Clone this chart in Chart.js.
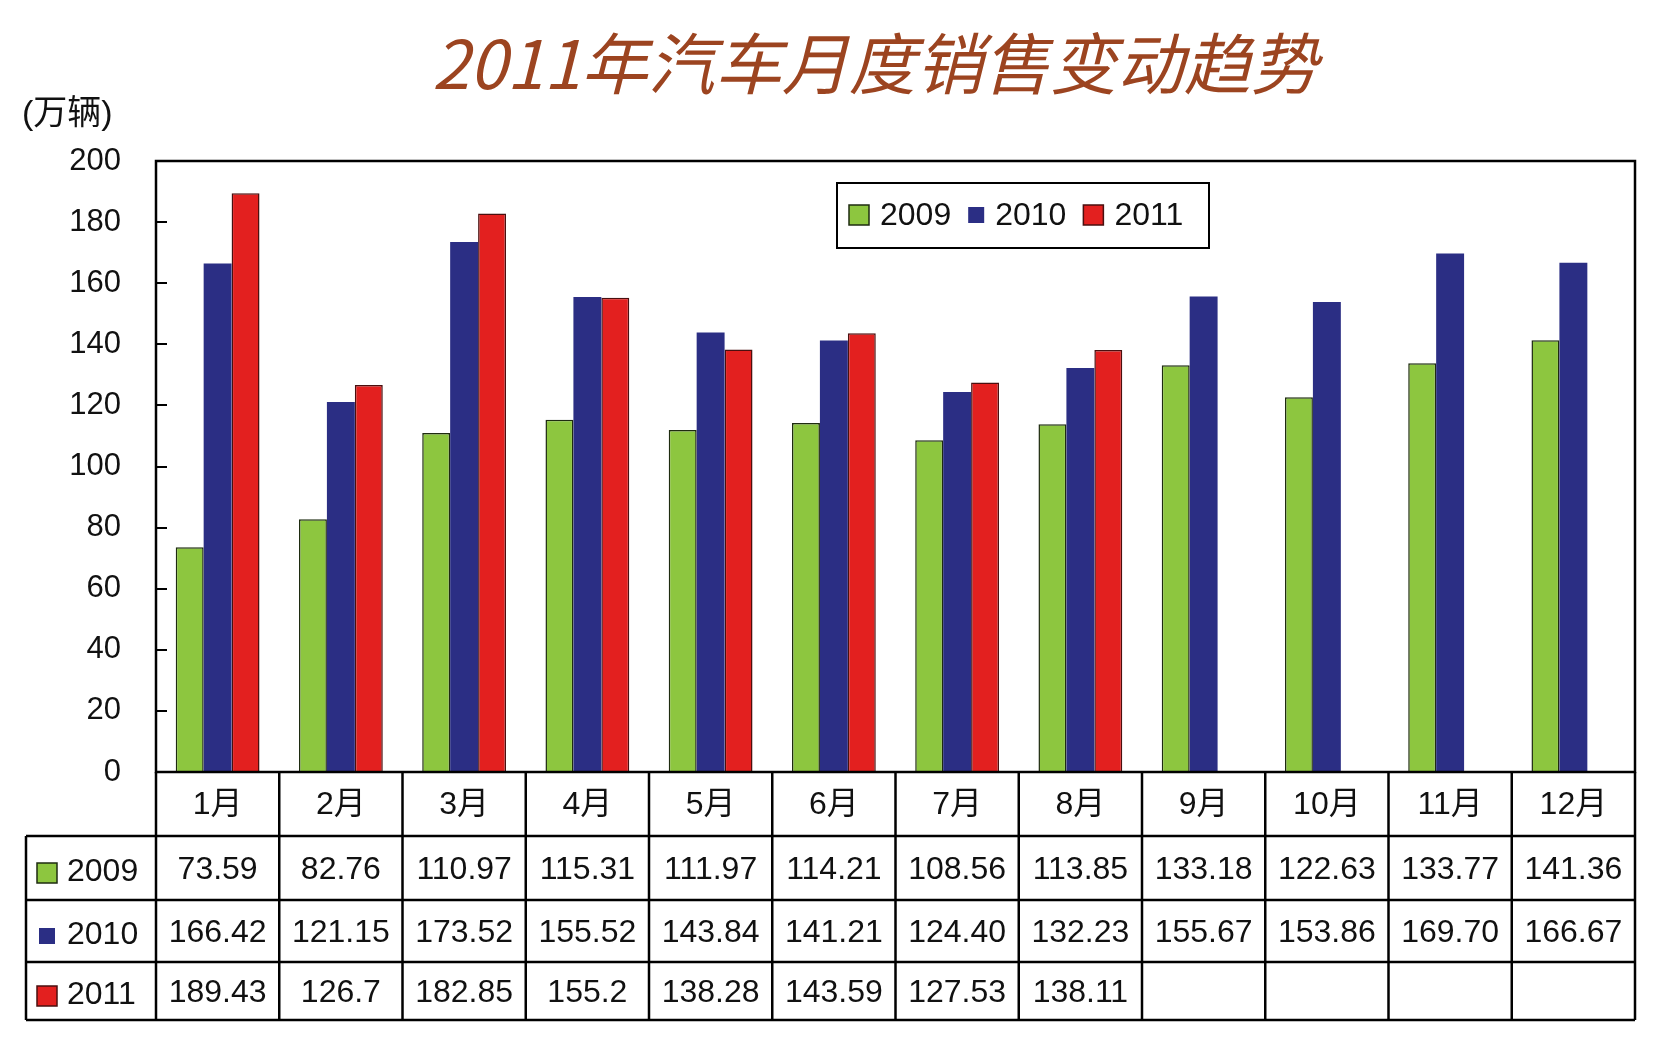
<!DOCTYPE html>
<html lang="zh-CN">
<head>
  <meta charset="UTF-8" />
  <title>2011年汽车月度销售变动趋势</title>
  <script src="https://cdn.jsdelivr.net/npm/chart.js"></script>
  <style>
    html, body {
      margin: 0;
      padding: 0;
      background: #fff;
    }

    #wrap {
      width: 1654px;
      height: 1040px;
    }
  </style>
</head>
<body>

  <div id="wrap">
    <canvas id="salesChart" width="1654" height="1040"></canvas>
  </div>

  <script>
    const titleText = '2011年汽车月度销售变动趋势';
    const unitText = '(万辆)';
    const months = ['1月', '2月', '3月', '4月', '5月', '6月', '7月', '8月', '9月', '10月', '11月', '12月'];
    const years = ['2009', '2010', '2011'];
    const sales2009 = [73.59, 82.76, 110.97, 115.31, 111.97, 114.21, 108.56, 113.85, 133.18, 122.63, 133.77, 141.36];
    const sales2010 = [166.42, 121.15, 173.52, 155.52, 143.84, 141.21, 124.40, 132.23, 155.67, 153.86, 169.70, 166.67];
    const sales2011 = [189.43, 126.7, 182.85, 155.2, 138.28, 143.59, 127.53, 138.11, null, null, null, null];
    const yMin = 0, yMax = 200, yStep = 20;

    const FONT = "'Liberation Sans', Arial, 'Noto Sans CJK SC', sans-serif";
    const CJK = "'Noto Sans CJK SC', 'Liberation Sans', sans-serif";

    // table under the plot, legend box, title: drawn after the bars
    const sheetPlugin = {
      id: 'sheet',
      afterDraw(chart) {
        const { ctx, chartArea: a, scales: { x, y } } = chart;
        const sets = chart.data.datasets;
        ctx.save();

        // title + unit
        ctx.fillStyle = '#9c4420';
        ctx.font = 'italic 67px ' + CJK;
        ctx.textAlign = 'center';
        ctx.textBaseline = 'middle';
        ctx.fillText(titleText, 875, 64);

        ctx.fillStyle = '#111';
        ctx.font = '34px ' + FONT;
        ctx.textAlign = 'left';
        ctx.fillText(unitText, 22, 115);

        // inner tick marks on the y axis
        ctx.strokeStyle = '#000';
        ctx.lineWidth = 2;
        y.ticks.forEach(t => {
          if (t.value <= yMin || t.value >= yMax) return;
          const py = Math.round(y.getPixelForValue(t.value));
          ctx.beginPath();
          ctx.moveTo(a.left, py);
          ctx.lineTo(a.left + 11, py);
          ctx.stroke();
        });

        // plot frame
        ctx.lineWidth = 2.5;
        ctx.strokeRect(a.left, a.top, a.right - a.left, a.bottom - a.top);

        // legend
        ctx.lineWidth = 2;
        ctx.strokeRect(837, 183, 372, 65);
        ctx.font = '32px ' + FONT;
        ctx.textBaseline = 'middle';
        let lx = 849;
        sets.forEach(ds => {
          const plain = ds.borderWidth === 0;
          const s = plain ? 16 : 20;
          const top = 215 - s / 2;
          ctx.fillStyle = ds.backgroundColor;
          ctx.fillRect(lx, top, s, s);
          if (!plain) {
            ctx.strokeStyle = ds.borderColor;
            ctx.lineWidth = 1.5;
            ctx.strokeRect(lx, top, s, s);
          }
          ctx.fillStyle = '#111';
          ctx.textAlign = 'left';
          ctx.fillText(ds.label, lx + s + 11, 216);
          lx += s + 11 + ctx.measureText(ds.label).width + 17;
        });

        // data table
        const step = x.getPixelForValue(1) - x.getPixelForValue(0);
        const edges = months.map((m, i) => x.getPixelForValue(i) - step / 2);
        edges.push(a.right);
        const rows = [a.bottom, a.bottom + 64, a.bottom + 128, a.bottom + 190, a.bottom + 248];
        const tableLeft = 26;

        ctx.strokeStyle = '#000';
        ctx.lineWidth = 2.5;
        ctx.beginPath();
        rows.slice(1).forEach(ry => {
          ctx.moveTo(tableLeft, ry);
          ctx.lineTo(a.right, ry);
        });
        edges.forEach(ex => {
          ctx.moveTo(ex, a.bottom);
          ctx.lineTo(ex, rows[4]);
        });
        ctx.moveTo(tableLeft, rows[1]);
        ctx.lineTo(tableLeft, rows[4]);
        ctx.stroke();

        ctx.fillStyle = '#111';
        ctx.textAlign = 'center';
        ctx.font = '32px ' + FONT;
        months.forEach((m, i) => {
          ctx.fillText(m, x.getPixelForValue(i), (rows[0] + rows[1]) / 2 + 1);
        });

        ctx.font = '32px ' + FONT;
        sets.forEach((ds, r) => {
          const cy = (rows[r + 1] + rows[r + 2]) / 2;
          const plain = ds.borderWidth === 0;
          const s = plain ? 16 : 20;
          ctx.fillStyle = ds.backgroundColor;
          ctx.fillRect(37 + (20 - s) / 2, cy + 5 - s / 2, s, s);
          if (!plain) {
            ctx.strokeStyle = ds.borderColor;
            ctx.lineWidth = 1.5;
            ctx.strokeRect(37, cy + 5 - s / 2, s, s);
          }
          ctx.fillStyle = '#111';
          ctx.textAlign = 'left';
          ctx.fillText(ds.label, 67, cy + 4);
          ctx.textAlign = 'center';
          ds.data.forEach((v, i) => {
            if (v === null) return;
            const txt = r < 2 ? v.toFixed(2) : String(v);
            ctx.fillText(txt, x.getPixelForValue(i), cy + 2);
          });
        });

        ctx.restore();
      }
    };

    const ctx = document.getElementById('salesChart').getContext('2d');
    new Chart(ctx, {
      type: 'bar',
      data: {
        labels: months,
        datasets: [
          { label: years[0], data: sales2009, backgroundColor: '#8dc63f', borderColor: '#1e2b10', borderWidth: 1.5 },
          { label: years[1], data: sales2010, backgroundColor: '#2b2e84', borderColor: '#2b2e84', borderWidth: 0 },
          { label: years[2], data: sales2011, backgroundColor: '#e3201f', borderColor: '#4a0f0f', borderWidth: 1.5 }
        ]
      },
      options: {
        responsive: false,
        animation: false,
        devicePixelRatio: 1,
        layout: { padding: { top: 161, right: 19, left: 0, bottom: 0 } },
        datasets: { bar: { categoryPercentage: 0.68, barPercentage: 1.0 } },
        plugins: {
          legend: { display: false },
          tooltip: { enabled: false },
          title: { display: false }
        },
        scales: {
          x: {
            ticks: { display: false },
            grid: { display: false },
            border: { display: false },
            afterFit: s => { s.height = 268; }
          },
          y: {
            min: yMin,
            max: yMax,
            ticks: { stepSize: yStep, padding: 35, color: '#111', font: { family: FONT, size: 31 } },
            grid: { display: false, drawTicks: false, tickLength: 0 },
            border: { display: false },
            afterFit: s => { s.width = 156; }
          }
        }
      },
      plugins: [sheetPlugin]
    });
  </script>

</body>
</html>
